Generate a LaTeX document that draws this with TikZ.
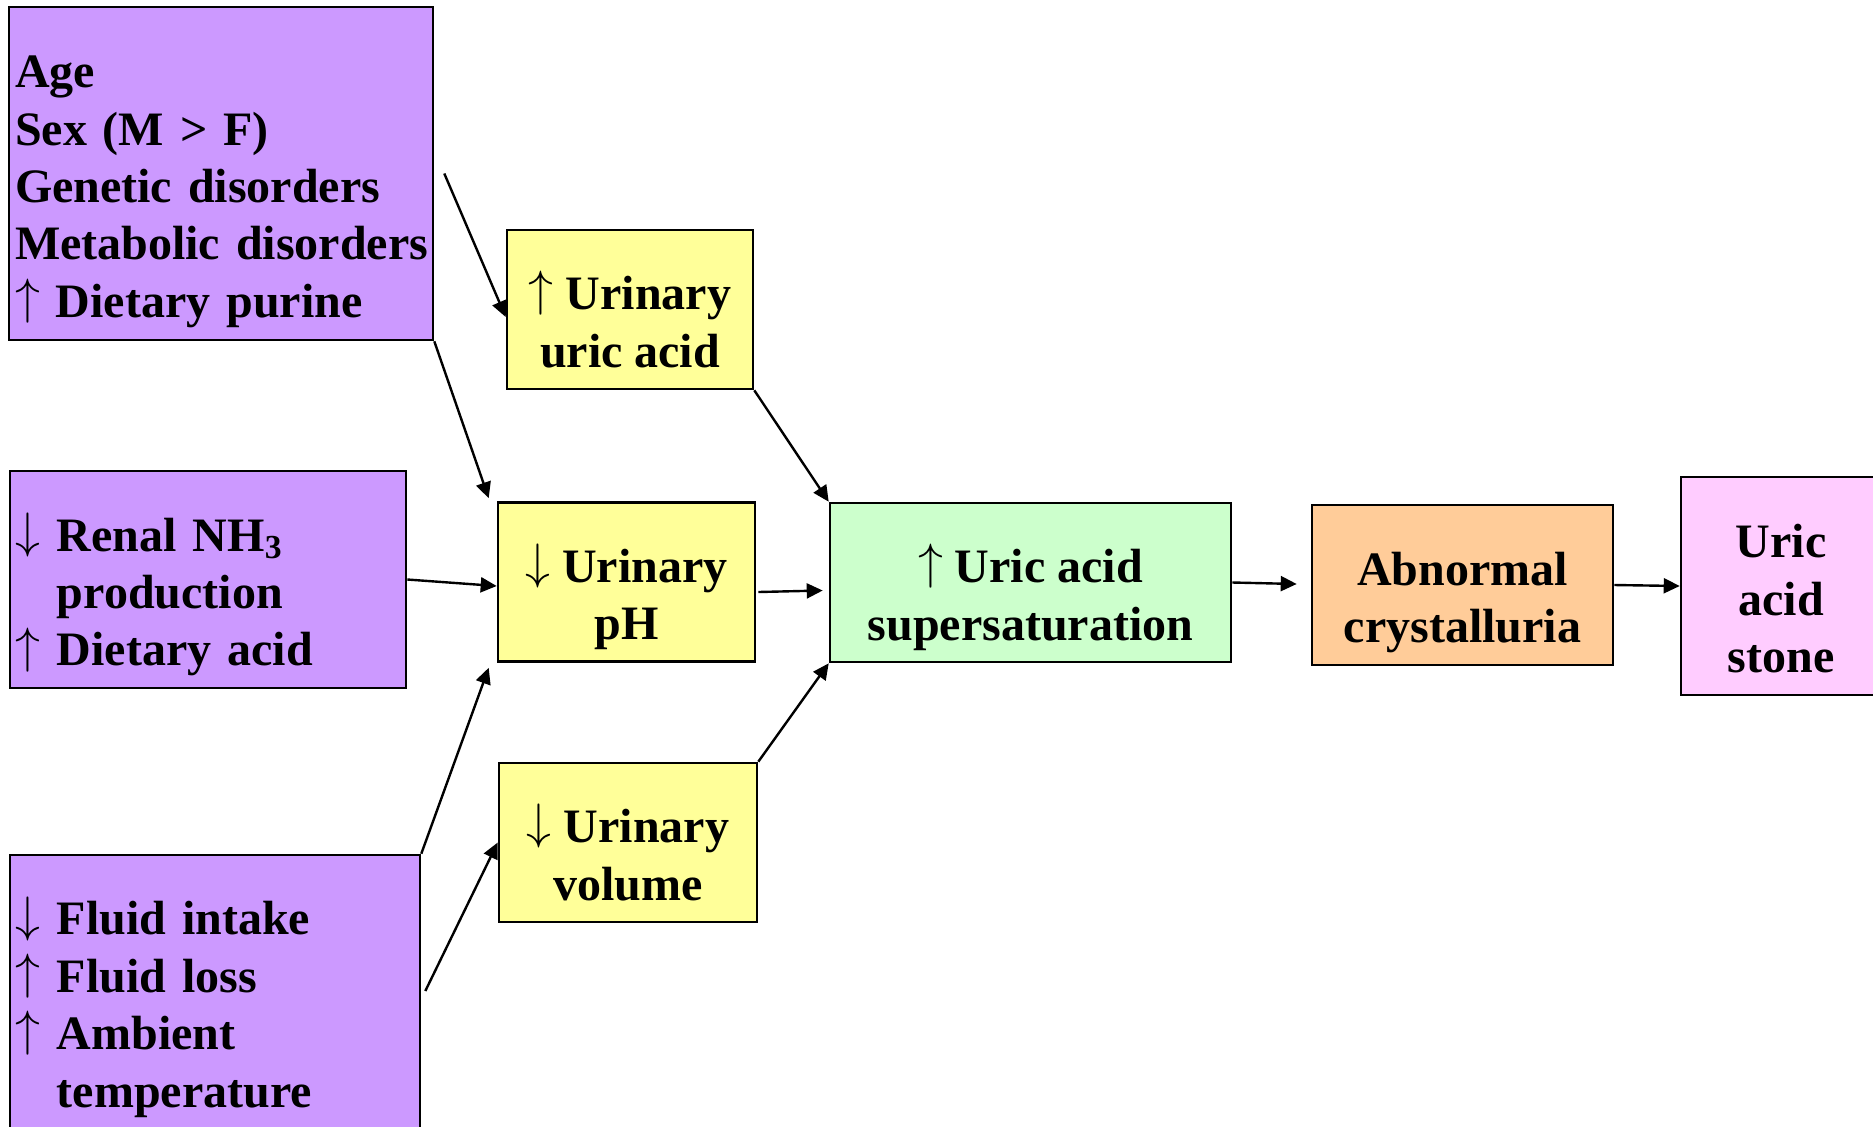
\documentclass[tikz,border=0pt]{standalone}
\usepackage{fontspec}
\setmainfont{Liberation Serif}
\usetikzlibrary{arrows.meta}

\definecolor{causepurple}{HTML}{CC99FF}
\definecolor{urineyellow}{HTML}{FFFF99}
\definecolor{satgreen}{HTML}{CCFFCC}
\definecolor{crystorange}{HTML}{FFCC99}
\definecolor{stonepink}{HTML}{FFCCFF}

\newcommand{\upstrut}{\rule{0pt}{35pt}}
\newcommand{\dnstrut}{\rule[-6pt]{0pt}{6pt}}
\newcommand{\incr}{\raisebox{0.08em}{$\uparrow$}\ }
\newcommand{\decr}{\raisebox{0.08em}{$\downarrow$}\ }

\begin{document}
\begin{tikzpicture}[x=0.5pt,y=-0.5pt,>={Triangle[length=8pt,width=7.5pt]},line width=1.2pt,
	box/.style = {rectangle,draw,line width=1.3pt,inner xsep=3pt,inner ysep=4pt,
		font=\fontsize{24}{28.7}\selectfont\bfseries},
	cause box/.style = {box,fill=causepurple,align=left},
	mid box/.style = {box,align=center,minimum height=79.5pt}]
	
	\useasboundingbox (0,0) rectangle (1873,1126);
	
	% causes
	\node[cause box,text width=206pt,minimum height=166.5pt] (risk) at (221,173.5)
		{\upstrut Age\\Sex (M > F)\\Genetic disorders\\\mbox{Metabolic disorders}\\\incr Dietary purine\dnstrut};
	\node[cause box,text width=192pt,minimum height=108.5pt] (acidfac) at (208,579.5)
		{\upstrut \decr Renal NH\textsubscript{3}\\\phantom{\decr}production\\\incr Dietary acid\dnstrut};
	\node[cause box,text width=199pt,minimum height=137pt] (fluid) at (215,992)
		{\upstrut \decr Fluid intake\\\incr Fluid loss\\\incr Ambient\\\phantom{\incr}temperature\dnstrut};
	
	% urine changes
	\node[mid box,fill=urineyellow,minimum width=123pt] (uricacid) at (630,309.5)
		{\upstrut \incr Urinary\\uric acid\dnstrut};
	\node[mid box,fill=urineyellow,minimum width=128.5pt] (ph) at (626.5,582)
		{\upstrut \decr Urinary\\pH\dnstrut};
	\node[mid box,fill=urineyellow,minimum width=129pt] (volume) at (628,842.5)
		{\upstrut \decr Urinary\\volume\dnstrut};
	
	\node[mid box,fill=satgreen,minimum width=200.5pt] (supersat) at (1030.5,582.5)
		{\upstrut \incr Uric acid\\supersaturation\dnstrut};
	\node[mid box,fill=crystorange,minimum width=150.5pt,minimum height=80pt] (crystal) at (1462.5,585)
		{\upstrut Abnormal\\crystalluria\dnstrut};
	\node[mid box,fill=stonepink,minimum width=100pt,minimum height=109pt] (stone) at (1781,586)
		{\upstrut Uric\\acid\\stone\dnstrut};
	
	\path[->] ([xshift=5pt]risk.east) edge ([yshift=-3.75pt]uricacid.west);
	\path[->] (risk.south east) edge ([xshift=-4pt,yshift=1.5pt]ph.north west);
	\path[->] (acidfac.east) edge ([yshift=-2pt]ph.west);
	\path[->] (fluid.north east) edge ([xshift=-4pt,yshift=-2.5pt]ph.south west);
	\path[->] ([xshift=2pt,yshift=0.5pt]fluid.east) edge (volume.west);
	
	\path[->] (uricacid.south east) edge (supersat.north west);
	\path[->] ([xshift=1pt,yshift=-5pt]ph.east) edge ([xshift=-3pt,yshift=-4pt]supersat.west);
	\path[->] (volume.north east) edge (supersat.south west);
	
	\path[->] (supersat.east) edge ([xshift=-7pt,yshift=0.5pt]crystal.west);
	\path[->] (crystal.east) edge (stone.west);
	
\end{tikzpicture}
\end{document}
